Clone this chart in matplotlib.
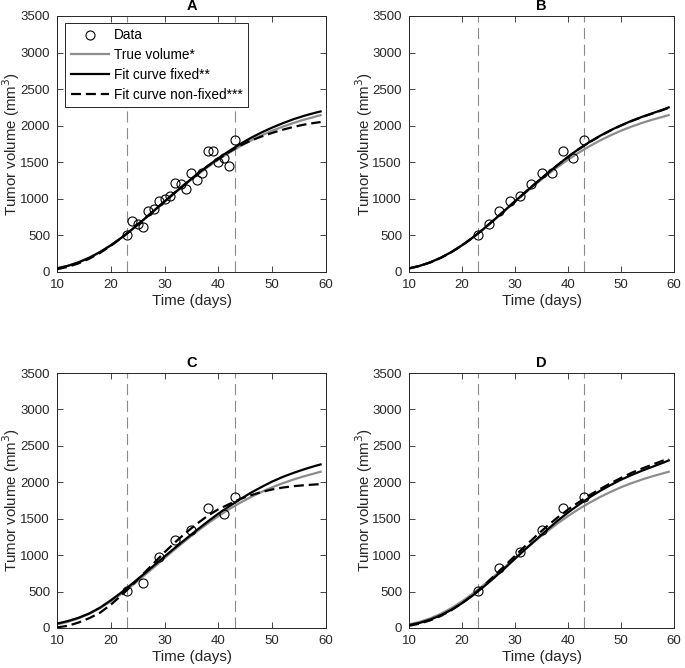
import matplotlib
matplotlib.use("Agg")
import matplotlib.pyplot as plt

plt.rcParams['font.family'] = ['Liberation Sans', 'DejaVu Sans']

# ---------------- data ----------------
t_curve = [10, 12, 14, 16, 18, 20, 22, 24, 26, 28, 30, 32, 34, 36, 38, 40,
           42, 44, 46, 48, 50, 52, 54, 56, 58, 59]

true_volume = [50, 84, 132, 195, 273, 365, 470, 585, 707, 832, 960, 1085, 1206,
               1323, 1434, 1536, 1631, 1717, 1796, 1867, 1932, 1988, 2039, 2084,
               2124, 2145]

fixed_A = [50, 84, 132, 195, 273, 365, 470, 585, 710, 838, 966, 1092, 1214,
           1335, 1450, 1556, 1655, 1748, 1832, 1907, 1975, 2035, 2090, 2137,
           2177, 2195]
nonfixed_A = [38, 70, 118, 182, 262, 358, 466, 584, 710, 838, 966, 1092, 1214,
              1333, 1445, 1545, 1640, 1728, 1795, 1852, 1902, 1946, 1985, 2016,
              2040, 2050]

fixed_B = [50, 84, 132, 195, 273, 365, 470, 585, 710, 838, 968, 1095, 1220,
           1342, 1460, 1575, 1680, 1775, 1860, 1937, 2005, 2067, 2122, 2172,
           2222, 2250]
nonfixed_B = [48, 82, 130, 193, 271, 363, 468, 584, 709, 837, 967, 1094, 1219,
              1341, 1459, 1573, 1678, 1772, 1857, 1934, 2002, 2064, 2119, 2169,
              2218, 2245]

fixed_C = [60, 95, 140, 200, 280, 380, 490, 610, 732, 857, 982, 1106, 1226,
           1345, 1460, 1570, 1670, 1765, 1855, 1935, 2010, 2075, 2130, 2180,
           2225, 2245]
nonfixed_C = [8, 30, 75, 135, 210, 320, 450, 590, 740, 890, 1040, 1180, 1310,
              1430, 1540, 1630, 1700, 1770, 1822, 1866, 1902, 1928, 1947, 1960,
              1970, 1975]

fixed_D = [40, 70, 115, 175, 250, 340, 445, 560, 685, 815, 950, 1085, 1215,
           1345, 1470, 1585, 1690, 1790, 1880, 1960, 2035, 2100, 2160, 2215,
           2270, 2300]
nonfixed_D = [30, 60, 105, 165, 245, 340, 450, 575, 710, 850, 990, 1130, 1265,
              1395, 1515, 1625, 1725, 1820, 1905, 1985, 2060, 2130, 2190, 2245,
              2300, 2320]

days_A = [23, 24, 25, 26, 27, 28, 29, 30, 31, 32, 33, 34, 35, 36, 37, 38, 39,
          40, 41, 42, 43]
vol_A = [510, 700, 660, 620, 830, 860, 975, 1000, 1040, 1210, 1200, 1130, 1350,
         1260, 1360, 1650, 1650, 1510, 1560, 1450, 1800]

days_B = [23, 25, 27, 29, 31, 33, 35, 37, 39, 41, 43]
vol_B = [510, 660, 830, 975, 1040, 1200, 1350, 1360, 1650, 1560, 1800]

days_C = [23, 26, 29, 32, 35, 38, 41, 43]
vol_C = [510, 620, 975, 1210, 1350, 1650, 1560, 1800]

days_D = [23, 27, 31, 35, 39, 43]
vol_D = [510, 830, 1040, 1350, 1650, 1800]

window = [23, 43]
panel_titles = ['A', 'B', 'C', 'D']
legend_labels = ['Data', 'True volume*', 'Fit curve fixed**', 'Fit curve non-fixed***']

panels = [
    (days_A, vol_A, fixed_A, nonfixed_A),
    (days_B, vol_B, fixed_B, nonfixed_B),
    (days_C, vol_C, fixed_C, nonfixed_C),
    (days_D, vol_D, fixed_D, nonfixed_D),
]

# ---------------- figure ----------------
fig = plt.figure(figsize=(6.85, 6.68), dpi=100)
W, H = 685, 668
boxes = [(57, 16, 326, 272), (409, 16, 674, 272),
         (57, 373, 326, 628), (409, 373, 674, 628)]

axcol = '#262626'
for i, (bx, (dd, vv, ff, nf)) in enumerate(zip(boxes, panels)):
    x0, y0, x1, y1 = bx
    ax = fig.add_axes([x0 / W, 1 - y1 / H, (x1 - x0) / W, (y1 - y0) / H])
    for v in window:
        ax.axvline(v, color='#8a8a8a', lw=0.8, ls=(0, (10, 5)), zorder=1)
    h_data, = ax.plot(dd, vv, 'o', mfc='none', mec='black', ms=6.5, mew=0.8,
                      zorder=5)
    h_true, = ax.plot(t_curve, true_volume, color='#8c8c8c', lw=1.6, zorder=2)
    h_fix, = ax.plot(t_curve, ff, color='black', lw=1.6, zorder=3)
    h_nf, = ax.plot(t_curve, nf, color='black', lw=1.6, ls=(0, (4.5, 2.2)),
                    zorder=4)
    ax.set_xlim(10, 60)
    ax.set_ylim(0, 3500)
    ax.set_xticks([10, 20, 30, 40, 50, 60])
    ax.set_yticks(range(0, 3501, 500))
    ax.tick_params(direction='in', top=True, right=True, length=4, width=0.6,
                   labelsize=9.5, colors=axcol)
    ax.tick_params(axis='x', pad=5)
    ax.tick_params(axis='y', pad=5)
    for tl in ax.get_xticklabels() + ax.get_yticklabels():
        tl.set_color('#262626')
    for s in ax.spines.values():
        s.set_color(axcol)
        s.set_linewidth(0.7)
    ax.set_xlabel('Time (days)', fontsize=11, color='#262626', labelpad=2)
    ax.set_ylabel('Tumor volume (mm$^3$)', fontsize=10.8, color='#262626')
    ax.yaxis.set_label_coords(-0.13, 0.5)
    ax.set_title(panel_titles[i], fontsize=10.5, fontweight='bold', pad=4)
    if i == 0:
        leg = ax.legend([h_data, h_true, h_fix, h_nf], legend_labels,
                        loc='upper left', bbox_to_anchor=(0.03, 0.973),
                        fontsize=9.8, frameon=True, fancybox=False,
                        edgecolor='#262626', framealpha=1, handlelength=2.8,
                        borderpad=0.4, labelspacing=0.42, handletextpad=0.4,
                        borderaxespad=0)
        leg.get_frame().set_linewidth(0.7)

fig.savefig('out.png', dpi=100)
